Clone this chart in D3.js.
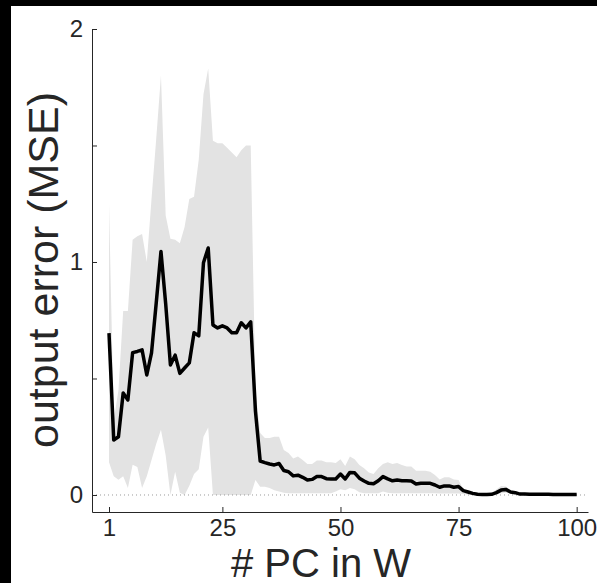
<!DOCTYPE html>
<html>
<head>
<meta charset="utf-8">
<script src="https://cdn.jsdelivr.net/npm/d3@7"></script>
<style>
  html, body { margin: 0; padding: 0; background: #000; }
  svg { display: block; }
  .tick text { font-family: "Liberation Sans", Arial, Helvetica, sans-serif; fill: #262626; }
</style>
</head>
<body>
<svg id="chart" width="597" height="583"></svg>
<script>
// number of PCs kept in W (1..100)
const pcCount = d3.range(1, 101);

// mean output error (MSE), black line
const meanErr = [
  0.695, 0.236, 0.25, 0.438, 0.408, 0.611, 0.616, 0.623, 0.515, 0.61,
  0.825, 1.045, 0.82, 0.558, 0.60, 0.522, 0.545, 0.567, 0.696, 0.683,
  0.997, 1.06, 0.73, 0.717, 0.726, 0.717, 0.696, 0.696, 0.739, 0.717,
  0.743, 0.36, 0.146, 0.139, 0.133, 0.129, 0.135, 0.105, 0.10, 0.082,
  0.085, 0.076, 0.064, 0.067, 0.079, 0.079, 0.07, 0.069, 0.069, 0.09,
  0.069, 0.097, 0.095, 0.072, 0.06, 0.05, 0.048, 0.061, 0.079, 0.069,
  0.061, 0.064, 0.061, 0.061, 0.06, 0.047, 0.05, 0.05, 0.05, 0.043,
  0.033, 0.039, 0.039, 0.033, 0.036, 0.019, 0.013, 0.007, 0.003, 0.002,
  0.002, 0.003, 0.01, 0.021, 0.024, 0.013, 0.01, 0.004, 0.004, 0.003,
  0.003, 0.003, 0.003, 0.003, 0.002, 0.002, 0.002, 0.002, 0.002, 0.002
];

// upper edge of shaded band
const upperErr = [
  1.25, 0.32, 0.45, 0.79, 0.79, 1.095, 1.11, 1.12, 1.0, 1.27,
  1.53, 1.80, 1.2, 1.10, 1.095, 1.08, 1.15, 1.27, 1.28, 1.44,
  1.72, 1.83, 1.52, 1.51, 1.51, 1.49, 1.47, 1.45, 1.48, 1.50,
  1.50, 0.45, 0.266, 0.245, 0.245, 0.25, 0.25, 0.193, 0.18, 0.157,
  0.165, 0.15, 0.133, 0.133, 0.148, 0.148, 0.14, 0.14, 0.137, 0.153,
  0.124, 0.165, 0.153, 0.129, 0.115, 0.096, 0.09, 0.115, 0.133, 0.14,
  0.133, 0.137, 0.129, 0.122, 0.122, 0.104, 0.104, 0.104, 0.10, 0.086,
  0.067, 0.076, 0.076, 0.067, 0.064, 0.024, 0.016, 0.01, 0.006, 0.005,
  0.005, 0.006, 0.024, 0.039, 0.036, 0.019, 0.013, 0.007, 0.006, 0.006,
  0.005, 0.005, 0.005, 0.005, 0.004, 0.004, 0.004, 0.004, 0.004, 0.004
];

// lower edge of shaded band
const lowerErr = [
  0.14, 0.08, 0.065, 0.08, 0.03, 0.13, 0.12, 0.03, 0.08, 0.15,
  0.22, 0.28, 0.17, 0.0, 0.10, 0.01, 0.0, 0.04, 0.09, 0.11,
  0.25, 0.29, 0.0, 0.0, 0.0, 0.0, 0.0, 0.0, 0.0, 0.0,
  0.0, 0.064, 0.035, 0.035, 0.03, 0.02, 0.015, 0.01, 0.008, 0.008,
  0.008, 0.008, 0.008, 0.008, 0.008, 0.008, 0.008, 0.008, 0.015, 0.025,
  0.02, 0.03, 0.025, 0.012, 0.008, 0.008, 0.008, 0.008, 0.015, 0.01,
  0.008, 0.008, 0.008, 0.008, 0.008, 0.008, 0.008, 0.008, 0.008, 0.008,
  0.006, 0.006, 0.006, 0.006, 0.006, 0.004, 0.002, 0.001, 0.0, 0.0,
  0.0, 0.0, 0.002, 0.008, 0.01, 0.006, 0.004, 0.001, 0.001, 0.001,
  0.001, 0.001, 0.001, 0.001, 0.0, 0.0, 0.0, 0.0, 0.0, 0.0
];

const xTicks = [1, 25, 50, 75, 100];
const yTicks = [0, 0.5, 1, 1.5, 2];
const yLabelled = [0, 1, 2];

/*  */
/* Scales */
/*  */
const svg = d3.select("#chart");
const font = '"Liberation Sans", Arial, Helvetica, sans-serif';
const ink = "#262626";

const x = d3.scaleLinear()
            .domain([-2.6, 102.4])
            .range([92, 588]);
const y = d3.scaleLinear()
            .domain([-0.073, 2])
            .range([512, 29]);

const data = pcCount.map((n, i) => ({ n: n, m: meanErr[i], hi: upperErr[i], lo: lowerErr[i] }));

// white figure area (black edge strips on left and top)
svg.append("rect")
  .attr("x", 11).attr("y", 6)
  .attr("width", 597 - 11).attr("height", 583 - 6)
  .attr("fill", "#fff");

/*  */
/* Band, zero line, mean */
/*  */
svg.append("path")
  .datum(data)
  .attr("fill", "#e3e3e3")
  .attr("d", d3.area()
    .x(d => x(d.n))
    .y0(d => y(d.lo))
    .y1(d => y(d.hi)));

svg.append("line")
  .attr("x1", x.range()[0]).attr("x2", x.range()[1])
  .attr("y1", y(0)).attr("y2", y(0))
  .attr("stroke", "#9a9a9a")
  .attr("stroke-width", 1)
  .attr("stroke-dasharray", "1,3");

svg.append("path")
  .datum(data)
  .attr("fill", "none")
  .attr("stroke", "#000")
  .attr("stroke-width", 3.5)
  .attr("stroke-linejoin", "round")
  .attr("d", d3.line()
    .x(d => x(d.n))
    .y(d => y(d.m)));

/*  */
/* Axes (ticks pointing inward) */
/*  */
const xAxis = svg.append("g")
  .attr("transform", `translate(0,${y.range()[0]})`)
  .call(d3.axisBottom(x)
    .tickValues(xTicks)
    .tickSizeInner(-5)
    .tickSizeOuter(0)
    .tickPadding(7));

const yAxis = svg.append("g")
  .attr("transform", `translate(${x.range()[0]},0)`)
  .call(d3.axisLeft(y)
    .tickValues(yTicks)
    .tickFormat(d => yLabelled.includes(d) ? d : "")
    .tickSizeInner(-5)
    .tickSizeOuter(0)
    .tickPadding(9));

[xAxis, yAxis].forEach(g => {
  g.selectAll(".domain, .tick line").attr("stroke", ink).attr("stroke-width", 1);
  g.selectAll(".tick text").attr("font-size", 24).attr("fill", ink);
});

/*  */
/* Axis titles */
/*  */
svg.append("text")
  .attr("x", 321).attr("y", 577)
  .attr("text-anchor", "middle")
  .attr("font-family", font)
  .attr("font-size", 40)
  .attr("fill", ink)
  .text("# PC in W");

svg.append("text")
  .attr("transform", "translate(58,270) rotate(-90)")
  .attr("text-anchor", "middle")
  .attr("font-family", font)
  .attr("font-size", 43)
  .attr("fill", ink)
  .text("output error (MSE)");
</script>
</body>
</html>
